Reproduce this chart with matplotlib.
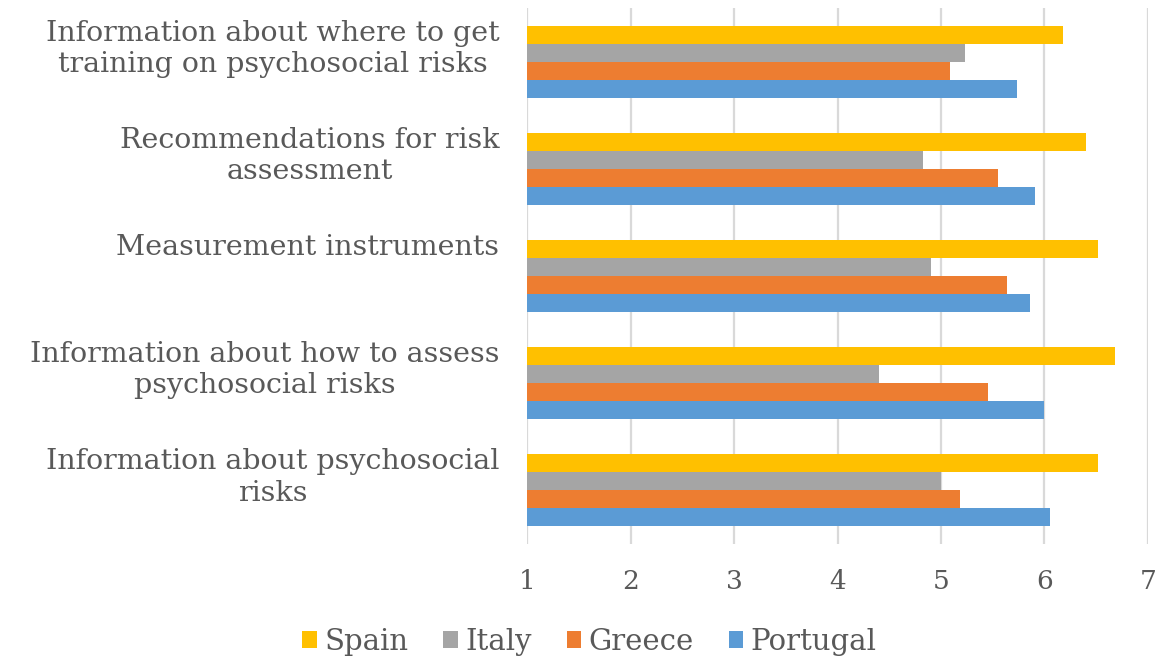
import matplotlib.pyplot as plt
import numpy as np
from matplotlib.patches import Patch

# --------------------------
# data
# --------------------------
categories = [
    'Information about where to get\ntraining on psychosocial risks',
    'Recommendations for risk\nassessment',
    'Measurement instruments',
    'Information about how to assess\npsychosocial risks',
    'Information about psychosocial\nrisks',
]
series_names = ['Spain', 'Italy', 'Greece', 'Portugal']
spain = [6.18, 6.40, 6.52, 6.68, 6.52]
italy = [5.23, 4.83, 4.90, 4.40, 5.00]
greece = [5.09, 5.55, 5.64, 5.45, 5.18]
portugal = [5.73, 5.91, 5.86, 6.00, 6.05]
x_ticks = [1, 2, 3, 4, 5, 6, 7]

colors = ['#FFC000', '#A5A5A5', '#ED7D31', '#5B9BD5']
text_color = '#595959'
font = 'DejaVu Serif'

# --------------------------
# plot
# --------------------------
fig = plt.figure(figsize=(11.56, 6.64), dpi=100)
ax = fig.add_axes([0.456, 0.181, 0.537, 0.807])

y = np.arange(len(categories))
bar_h = 0.168
values = [spain, italy, greece, portugal]
for i, (name, vals, col) in enumerate(zip(series_names, values, colors)):
    offs = (i - 1.5) * bar_h
    ax.barh(y + offs, np.array(vals) - 1, left=1, height=bar_h, color=col,
            label=name, zorder=3)

ax.set_xlim(1, 7)
ax.set_ylim(len(categories) - 0.5, -0.5)
ax.set_xticks(x_ticks)
ax.set_xticklabels([str(t) for t in x_ticks], fontsize=19, color=text_color,
                   family=font)
ax.tick_params(axis='x', length=0, pad=18)
ax.set_yticks([])
ax.grid(axis='x', color='#D9D9D9', linewidth=1.6, zorder=0)
for s in ax.spines.values():
    s.set_visible(False)

# category labels, top-aligned to each group like the original
for yi, lab in zip(y, categories):
    ax.text(-0.045, yi - 0.39, lab, transform=ax.get_yaxis_transform(),
            ha='right', va='top', multialignment='center', fontsize=20.5,
            color=text_color, family=font, linespacing=1.2)

handles = [Patch(facecolor=c, label=n) for n, c in zip(series_names, colors)]
leg = fig.legend(handles=handles, loc='center', bbox_to_anchor=(0.51, 0.033),
                 ncol=4, frameon=False, handlelength=0.5, handleheight=0.5,
                 handletextpad=0.25, columnspacing=1.2,
                 prop={'family': font, 'size': 21})
for t in leg.get_texts():
    t.set_color(text_color)

fig.savefig('out.png', dpi=100)
